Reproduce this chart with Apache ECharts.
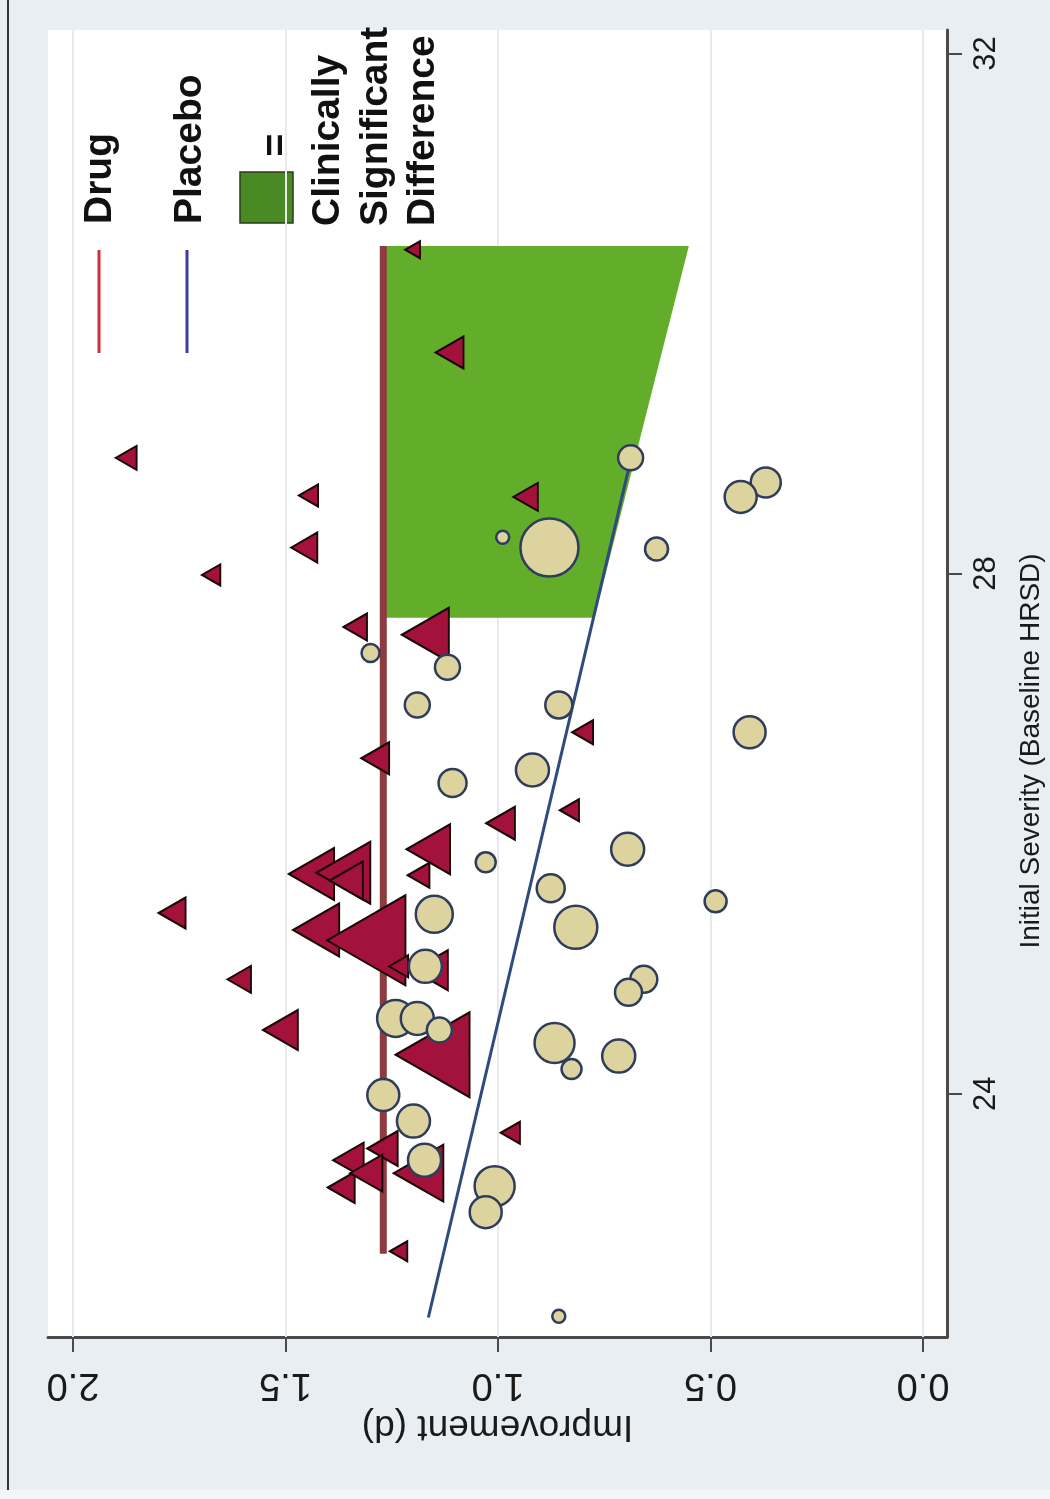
<!DOCTYPE html>
<html>
<head>
<meta charset="utf-8">
<script src="https://cdn.jsdelivr.net/npm/echarts@6/dist/echarts.min.js"></script>
<style>
  html, body { margin: 0; padding: 0; background: #e9eef2; }
  #chart { width: 1050px; height: 1499px; }
</style>
</head>
<body>
<div id="chart"></div>
<script>
// [improvement d, baseline HRSD, study weight]
const drugTrials = [
  [1.875, 28.89, 24], [1.675, 27.99, 21], [1.446, 28.60, 22], [1.456, 28.20, 30],
  [1.767, 25.39, 31], [1.609, 24.88, 27], [1.512, 24.49, 40], [1.336, 27.59, 27],
  [1.171, 27.53, 54], [1.289, 26.58, 32], [1.201, 30.49, 17], [1.114, 29.70, 32],
  [0.935, 28.59, 28], [0.801, 26.78, 24], [0.832, 26.18, 22], [0.994, 26.08, 33],
  [1.164, 25.88, 50], [1.187, 25.68, 25], [1.439, 25.69, 52], [1.364, 25.70, 62],
  [1.357, 25.64, 38], [1.428, 25.26, 53], [1.310, 25.18, 90], [1.234, 24.98, 22],
  [1.159, 24.95, 40], [1.154, 24.30, 85], [1.352, 23.49, 35], [1.272, 23.58, 35],
  [1.369, 23.28, 31], [1.310, 23.39, 37], [1.187, 23.39, 57], [0.971, 23.70, 22],
  [1.234, 22.79, 20]
];
const placeboTrials = [
  [0.688, 28.89, 25], [0.370, 28.70, 30], [0.429, 28.59, 32], [0.989, 28.28, 13],
  [0.879, 28.20, 58], [0.627, 28.19, 23], [1.300, 27.39, 18], [1.119, 27.28, 25],
  [1.190, 26.99, 25], [0.857, 26.99, 27], [0.408, 26.78, 32], [0.919, 26.49, 33],
  [1.107, 26.39, 28], [0.695, 25.88, 33], [1.029, 25.78, 20], [0.876, 25.58, 28],
  [0.488, 25.48, 22], [1.150, 25.38, 37], [0.817, 25.28, 43], [1.171, 24.98, 33],
  [0.657, 24.88, 27], [0.693, 24.78, 27], [1.241, 24.58, 37], [1.190, 24.58, 33],
  [1.138, 24.49, 25], [0.867, 24.39, 40], [0.827, 24.19, 20], [0.716, 24.29, 33],
  [1.270, 23.99, 32], [1.199, 23.79, 33], [1.173, 23.49, 33], [1.008, 23.29, 40],
  [1.029, 23.09, 32], [0.857, 22.29, 13]
];
const drugFit = [[1.27, 22.77], [1.27, 30.52]];
const placeboFit = [[1.164, 22.28], [0.688, 28.87]];
// region where drug - placebo >= 0.5
const clinicalZone = [[1.27, 27.66], [1.27, 30.52], [0.551, 30.52], [0.773, 27.66]];
const improvementTicks = [0, 0.5, 1, 1.5, 2];
const severityTicks = [24, 28, 32];

var myChart = echarts.init(document.getElementById('chart'));
const FONT = 'Liberation Sans, Arial, sans-serif';

var option = {
  backgroundColor: '#e9eef2',
  animation: false,
  grid: {
    left: 48, right: 103, top: 30, bottom: 162,
    show: true, backgroundColor: '#ffffff', borderWidth: 0
  },
  xAxis: {
    type: 'value',
    inverse: true,
    min: -0.0565,
    max: 2.059,
    position: 'bottom',
    name: 'Improvement (d)',
    nameLocation: 'middle',
    nameRotate: 180,
    nameGap: 68,
    nameTextStyle: { fontFamily: FONT, fontSize: 37, color: '#1a1a1a' },
    axisLine: { show: true, onZero: false, lineStyle: { color: '#4a4a4a', width: 3 } },
    axisTick: { show: true, length: 15, customValues: improvementTicks, lineStyle: { color: '#4a4a4a', width: 2 } },
    axisLabel: {
      customValues: improvementTicks,
      rotate: 180, margin: 28,
      fontFamily: FONT, fontSize: 38, color: '#1a1a1a',
      formatter: (v) => Number(v).toFixed(1)
    },
    splitLine: { show: false }
  },
  yAxis: {
    type: 'value',
    min: 22.13,
    max: 32.18,
    position: 'right',
    axisLine: { show: true, onZero: false, lineStyle: { color: '#4a4a4a', width: 3 } },
    axisTick: { show: true, length: 15, customValues: severityTicks, lineStyle: { color: '#4a4a4a', width: 2 } },
    axisLabel: {
      customValues: severityTicks,
      rotate: 90, margin: 24,
      fontFamily: FONT, fontSize: 31, color: '#1a1a1a'
    },
    splitLine: { show: false }
  },
  graphic: [
    { type: 'rect', shape: { x: 0, y: 1490, width: 1050, height: 9 }, style: { fill: '#f3f6f8' } },
    { type: 'line', shape: { x1: 8, y1: 0, x2: 8, y2: 1490 }, style: { stroke: '#333', lineWidth: 2 } },
    { type: 'text', x: 1031, y: 751, rotation: Math.PI / 2,
      style: { text: 'Initial Severity (Baseline HRSD)', fontFamily: FONT, fontSize: 28, fill: '#1a1a1a', align: 'center', verticalAlign: 'middle' } },
    // legend
    { type: 'line', shape: { x1: 99, y1: 250, x2: 99, y2: 353 }, style: { stroke: '#c8323a', lineWidth: 3 } },
    { type: 'line', shape: { x1: 187, y1: 250, x2: 187, y2: 353 }, style: { stroke: '#3b3f9b', lineWidth: 3 } },
    { type: 'text', x: 100, y: 224, rotation: Math.PI / 2,
      style: { text: 'Drug', fontFamily: FONT, fontWeight: 'bold', fontSize: 39, fill: '#111', align: 'left', verticalAlign: 'middle' } },
    { type: 'text', x: 190, y: 224, rotation: Math.PI / 2,
      style: { text: 'Placebo', fontFamily: FONT, fontWeight: 'bold', fontSize: 39, fill: '#111', align: 'left', verticalAlign: 'middle' } },
    { type: 'rect', shape: { x: 240, y: 172, width: 53, height: 51 }, style: { fill: '#4a8a25', stroke: '#2b3b1b', lineWidth: 1.5 } },
    { type: 'text', x: 277, y: 145, rotation: Math.PI / 2,
      style: { text: '=', fontFamily: FONT, fontWeight: 'bold', fontSize: 39, fill: '#111', align: 'center', verticalAlign: 'middle' } },
    { type: 'text', x: 328, y: 226, rotation: Math.PI / 2,
      style: { text: 'Clinically', fontFamily: FONT, fontWeight: 'bold', fontSize: 39, fill: '#111', align: 'left', verticalAlign: 'middle' } },
    { type: 'text', x: 376, y: 226, rotation: Math.PI / 2,
      style: { text: 'Significant', fontFamily: FONT, fontWeight: 'bold', fontSize: 39, fill: '#111', align: 'left', verticalAlign: 'middle' } },
    { type: 'text', x: 423, y: 226, rotation: Math.PI / 2,
      style: { text: 'Difference', fontFamily: FONT, fontWeight: 'bold', fontSize: 39, fill: '#111', align: 'left', verticalAlign: 'middle' } }
  ],
  series: [
    {
      name: 'grid',
      type: 'line',
      data: [],
      z: 1,
      markLine: {
        z: 1,
        silent: true,
        symbol: ['none', 'none'],
        label: { show: false },
        lineStyle: { color: '#e6eaed', width: 2, type: 'solid' },
        data: improvementTicks.map(v => ({ xAxis: v }))
      }
    },
    {
      name: 'Clinically Significant Difference',
      type: 'custom',
      z: 2,
      data: [clinicalZone[0]],
      renderItem: (params, api) => ({
        type: 'polygon',
        shape: { points: clinicalZone.map(p => api.coord(p)) },
        style: { fill: '#62ad29' }
      })
    },
    {
      name: 'Drug fit',
      type: 'line',
      z: 3,
      data: drugFit,
      showSymbol: false,
      lineStyle: { color: '#8e3b40', width: 7 }
    },
    {
      name: 'Placebo fit',
      type: 'line',
      z: 3,
      data: placeboFit,
      showSymbol: false,
      lineStyle: { color: '#2f4a7c', width: 3 }
    },
    {
      name: 'Drug',
      type: 'scatter',
      z: 4,
      data: drugTrials,
      symbol: 'triangle',
      symbolRotate: 90,
      symbolSize: (v) => [v[2], v[2] * 0.87],
      itemStyle: { color: '#a3123a', borderColor: '#1a0808', borderWidth: 2, opacity: 1 }
    },
    {
      name: 'Placebo',
      type: 'scatter',
      z: 5,
      data: placeboTrials,
      symbol: 'circle',
      symbolSize: (v) => v[2],
      itemStyle: { color: '#dcd39f', borderColor: '#2f3d5c', borderWidth: 2.5, opacity: 1 }
    }
  ]
};

option && myChart.setOption(option);
</script>
</body>
</html>
